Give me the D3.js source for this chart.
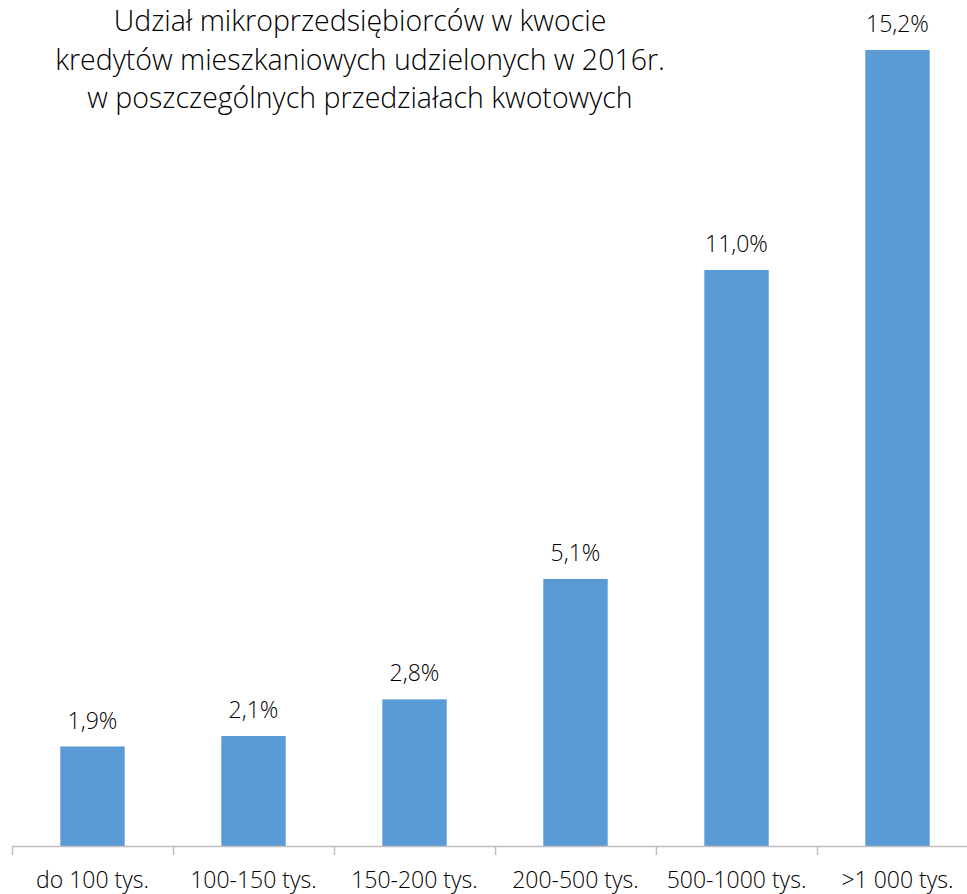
<!DOCTYPE html>
<html><head><meta charset="utf-8">
<script src="https://cdn.jsdelivr.net/npm/d3@7"></script>
<style>body{margin:0;background:#fff}svg{display:block}</style>
</head><body>
<script>
const categories = ["do 100 tys.", "100-150 tys.", "150-200 tys.", "200-500 tys.", "500-1000 tys.", ">1 000 tys."];
const values = [1.9, 2.1, 2.8, 5.1, 11.0, 15.2];
const titleLines = ["Udział mikroprzedsiębiorców w kwocie", "kredytów mieszkaniowych udzielonych w 2016r.", "w poszczególnych przedziałach kwotowych"];

const W = 967, H = 894;
const svg = d3.select("body").append("svg").attr("width", W).attr("height", H);
const font = "'Open Sans', sans-serif";
const x = d3.scaleBand().domain(categories).range([12, 978]).paddingInner(0.6).paddingOuter(0.3);
const y = d3.scaleLinear().domain([0, 15.2]).range([846, 50]);

svg.selectAll("rect.bar").data(values).enter().append("rect")
  .attr("x", (d, i) => x(categories[i])).attr("width", x.bandwidth())
  .attr("y", d => y(d)).attr("height", d => y(0) - y(d)).attr("fill", "#5B9BD5");

svg.selectAll("text.lab").data(values).enter().append("text")
  .attr("x", (d, i) => x(categories[i]) + x.bandwidth() / 2)
  .attr("y", d => y(d) - 18).attr("text-anchor", "middle")
  .attr("font-family", font).attr("font-weight", 300).attr("font-size", 23).attr("fill", "#000")
  .text(d => d.toFixed(1).replace(".", ",") + "%");

// axis
const step = x.step();
svg.append("line").attr("x1", 12).attr("x2", W).attr("y1", 846.5).attr("y2", 846.5).attr("stroke", "#BFBFBF").attr("stroke-width", 1.5);
categories.forEach((c, i) => {
  const tx = Math.round(x(c) - x.paddingOuter() * step) + 0.5;
  svg.append("line").attr("x1", tx).attr("x2", tx).attr("y1", 846).attr("y2", 855).attr("stroke", "#BFBFBF").attr("stroke-width", 1.5);
});
svg.selectAll("text.cat").data(categories).enter().append("text")
  .attr("x", d => x(d) + x.bandwidth() / 2).attr("y", 888).attr("text-anchor", "middle")
  .attr("font-family", font).attr("font-weight", 300).attr("font-size", 23).attr("fill", "#000")
  .text(d => d);

svg.selectAll("text.title").data(titleLines).enter().append("text")
  .attr("x", 360).attr("y", (d, i) => 31 + i * 38.5).attr("text-anchor", "middle")
  .attr("font-family", font).attr("font-weight", 300).attr("font-size", 28.5).attr("fill", "#000")
  .text(d => d);
</script>
</body></html>
